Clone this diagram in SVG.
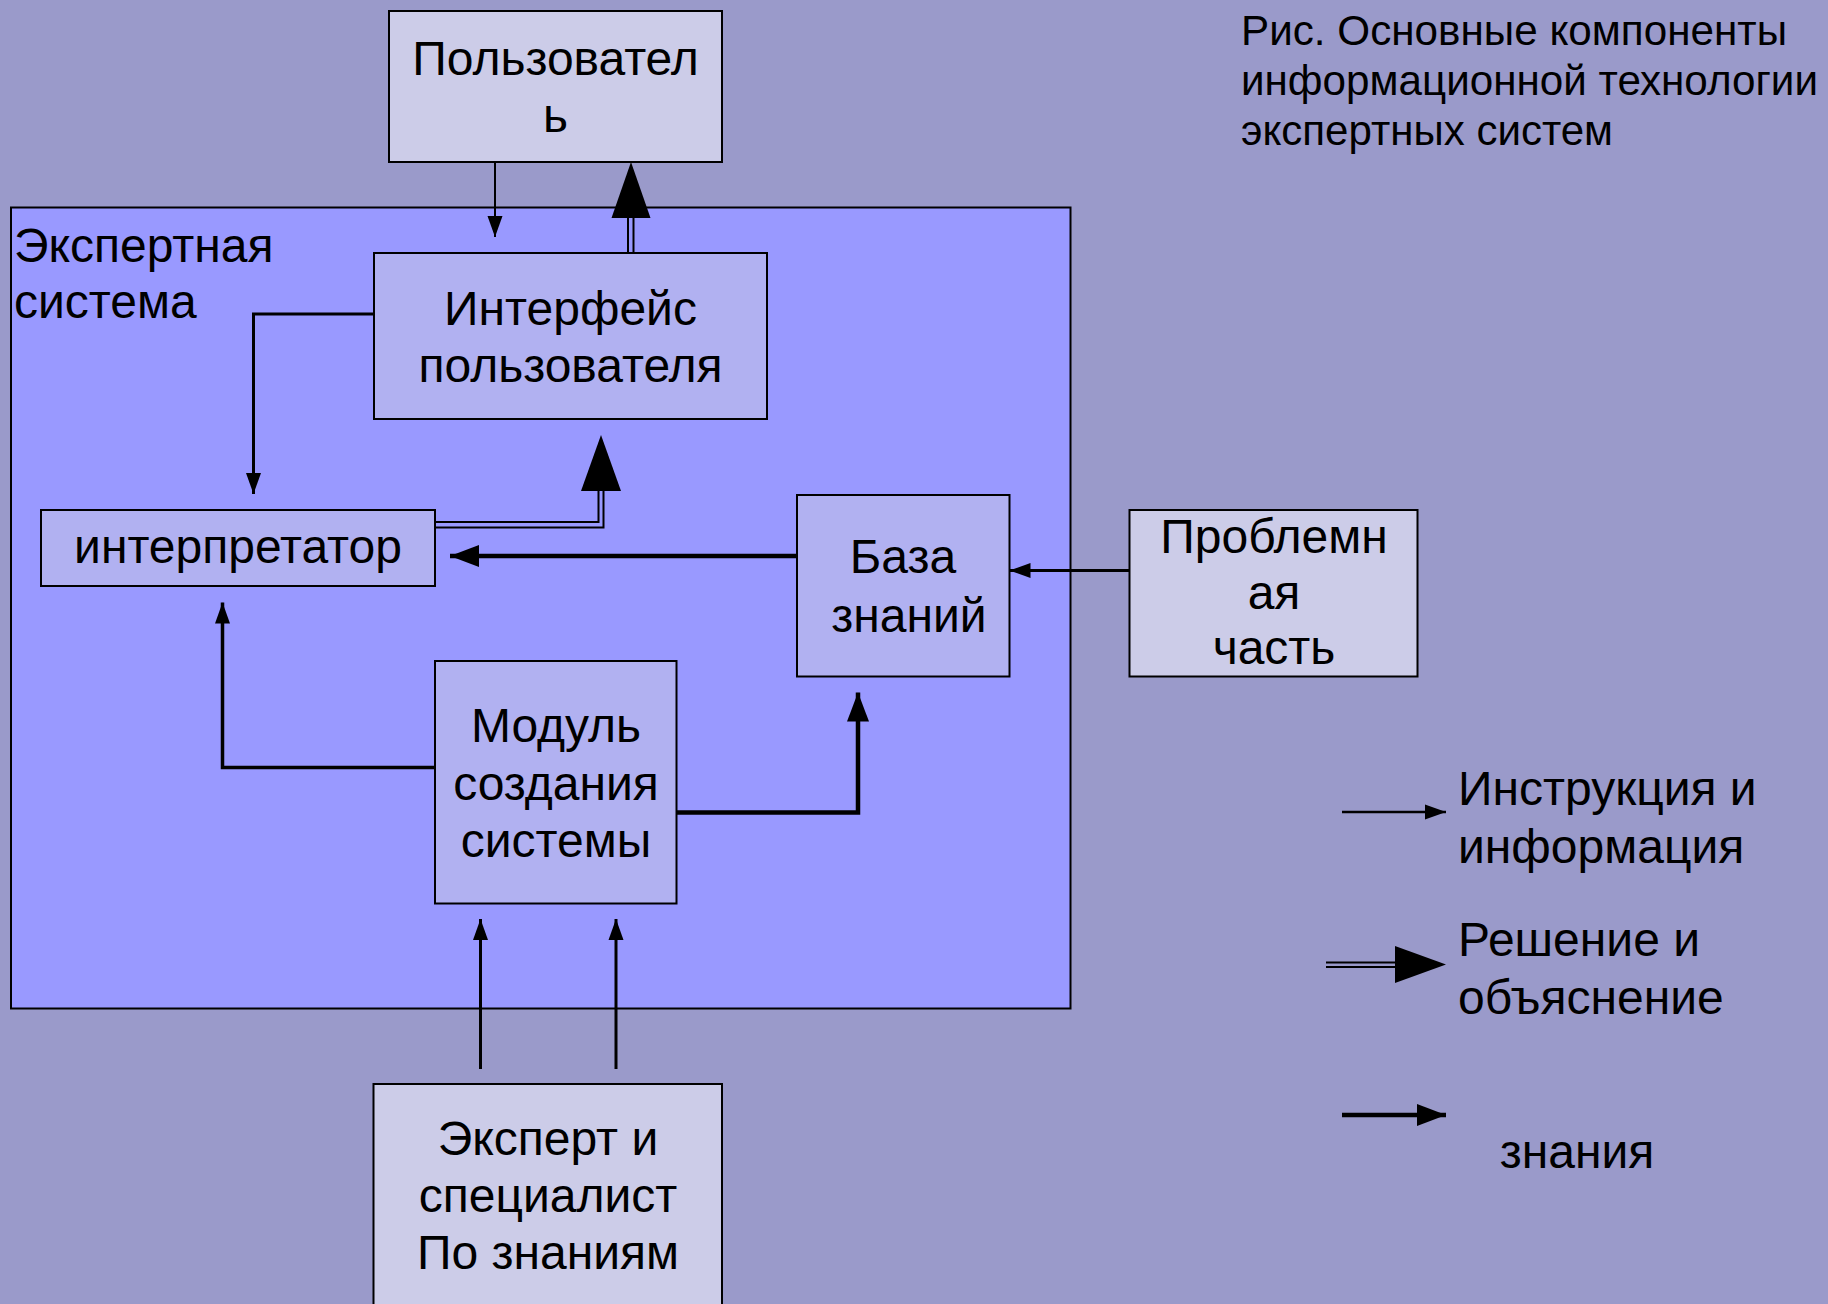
<svg xmlns="http://www.w3.org/2000/svg" width="1828" height="1304" viewBox="0 0 1828 1304">
<style>
  .box{stroke:#000;stroke-width:2}
  .outer{fill:#CCCCE8}
  .inner{fill:#B1B1F1}
  text{font-family:"Liberation Sans",Arial,sans-serif;font-size:48px;fill:#000}
  .c{text-anchor:middle}
  .cap{font-size:42px}
  .ln{fill:none;stroke:#000;stroke-linecap:butt;stroke-linejoin:miter}
  .ah{fill:#000}
</style>
<defs>
  <marker id="aThin" markerUnits="userSpaceOnUse" markerWidth="21" markerHeight="15" refX="21" refY="7.5" orient="auto" overflow="visible">
    <path d="M0,0 L21,7.5 L0,15 z" fill="#000"/>
  </marker>
  <marker id="aKnow" markerUnits="userSpaceOnUse" markerWidth="29" markerHeight="22" refX="29" refY="11" orient="auto" overflow="visible">
    <path d="M0,0 L29,11 L0,22 z" fill="#000"/>
  </marker>
</defs>
<rect x="0" y="0" width="1828" height="1304" fill="#9A9ACA"/>

<g id="expert-system">
  <rect x="11" y="207.5" width="1059.5" height="801" fill="#9999FF" stroke="#000" stroke-width="2"/>
  <text x="14" y="262">Экспертная</text>
  <text x="14" y="318">система</text>
</g>

<g id="user">
  <rect class="box outer" x="389" y="11" width="333" height="151"/>
  <text class="c" x="555.5" y="75">Пользовател</text>
  <text class="c" x="555.5" y="132">ь</text>
</g>

<g id="interface">
  <rect class="box inner" x="374" y="253" width="393" height="166"/>
  <text class="c" x="570.5" y="325">Интерфейс</text>
  <text class="c" x="570.5" y="382">пользователя</text>
</g>

<g id="interpreter">
  <rect class="box inner" x="41" y="510" width="394" height="76"/>
  <text class="c" x="238" y="563">интерпретатор</text>
</g>

<g id="knowledge-base">
  <rect class="box inner" x="797" y="495" width="212.5" height="181.5"/>
  <text class="c" x="903" y="573">База</text>
  <text class="c" x="909" y="631.5">знаний</text>
</g>

<g id="problem-part">
  <rect class="box outer" x="1129.5" y="510" width="288" height="166.5"/>
  <text class="c" x="1274" y="553">Проблемн</text>
  <text class="c" x="1274" y="608.5">ая</text>
  <text class="c" x="1274" y="664">часть</text>
</g>

<g id="module">
  <rect class="box inner" x="435" y="661" width="241.5" height="242.5"/>
  <text class="c" x="556" y="742">Модуль</text>
  <text class="c" x="556" y="800">создания</text>
  <text class="c" x="556" y="857">системы</text>
</g>

<g id="expert">
  <rect class="box outer" x="373.5" y="1084" width="348.5" height="240"/>
  <text class="c" x="548" y="1155">Эксперт и</text>
  <text class="c" x="548" y="1212">специалист</text>
  <text class="c" x="548" y="1269">По знаниям</text>
</g>

<g id="connectors">
  <!-- user -> interface -->
  <path class="ln" d="M495,162 V237" stroke-width="2" marker-end="url(#aThin)"/>
  <!-- interface -> user (double) -->
  <path class="ln" d="M628,253 V216" stroke-width="2"/>
  <path class="ln" d="M633.5,253 V216" stroke-width="2"/>
  <polygon class="ah" points="631,162 650.5,218 611.5,218"/>
  <!-- interface -> interpreter -->
  <path class="ln" d="M374,314 H253.5 V494" stroke-width="3" marker-end="url(#aThin)"/>
  <!-- interpreter -> interface (double) -->
  <path class="ln" d="M435,522 H598.5 V489" stroke-width="2"/>
  <path class="ln" d="M435,527.5 H603.5 V489" stroke-width="2"/>
  <polygon class="ah" points="601,435 621,491 581,491"/>
  <!-- knowledge base -> interpreter -->
  <path class="ln" d="M797,556 H450" stroke-width="4.5" marker-end="url(#aKnow)"/>
  <!-- problem part -> knowledge base -->
  <path class="ln" d="M1129.5,570.5 H1009.5" stroke-width="3" marker-end="url(#aThin)"/>
  <!-- module -> interpreter -->
  <path class="ln" d="M435,767.5 H222.5 V602.5" stroke-width="3.5" marker-end="url(#aThin)"/>
  <!-- module -> knowledge base -->
  <path class="ln" d="M676.5,812.5 H858 V692.5" stroke-width="4.5" marker-end="url(#aKnow)"/>
  <!-- expert -> module -->
  <path class="ln" d="M480.5,1069 V919" stroke-width="3" marker-end="url(#aThin)"/>
  <path class="ln" d="M616,1069 V919" stroke-width="3" marker-end="url(#aThin)"/>
</g>

<g id="legend">
  <path class="ln" d="M1342,812 H1446" stroke-width="2.5" marker-end="url(#aThin)"/>
  <text x="1458" y="805">Инструкция и</text>
  <text x="1458" y="863">информация</text>
  <path class="ln" d="M1326,962.5 H1397" stroke-width="2"/>
  <path class="ln" d="M1326,967 H1397" stroke-width="2"/>
  <polygon class="ah" points="1446,964.5 1395,946 1395,983"/>
  <text x="1458" y="956">Решение и</text>
  <text x="1458" y="1014">объяснение</text>
  <path class="ln" d="M1342,1115 H1446" stroke-width="4.5" marker-end="url(#aKnow)"/>
  <text class="c" x="1577" y="1168">знания</text>
</g>

<g id="caption">
  <text class="cap" x="1241" y="45" textLength="546" lengthAdjust="spacingAndGlyphs">Рис. Основные компоненты</text>
  <text class="cap" x="1241" y="95" textLength="577" lengthAdjust="spacingAndGlyphs">информационной технологии</text>
  <text class="cap" x="1241" y="145" textLength="372" lengthAdjust="spacingAndGlyphs">экспертных систем</text>
</g>
</svg>
